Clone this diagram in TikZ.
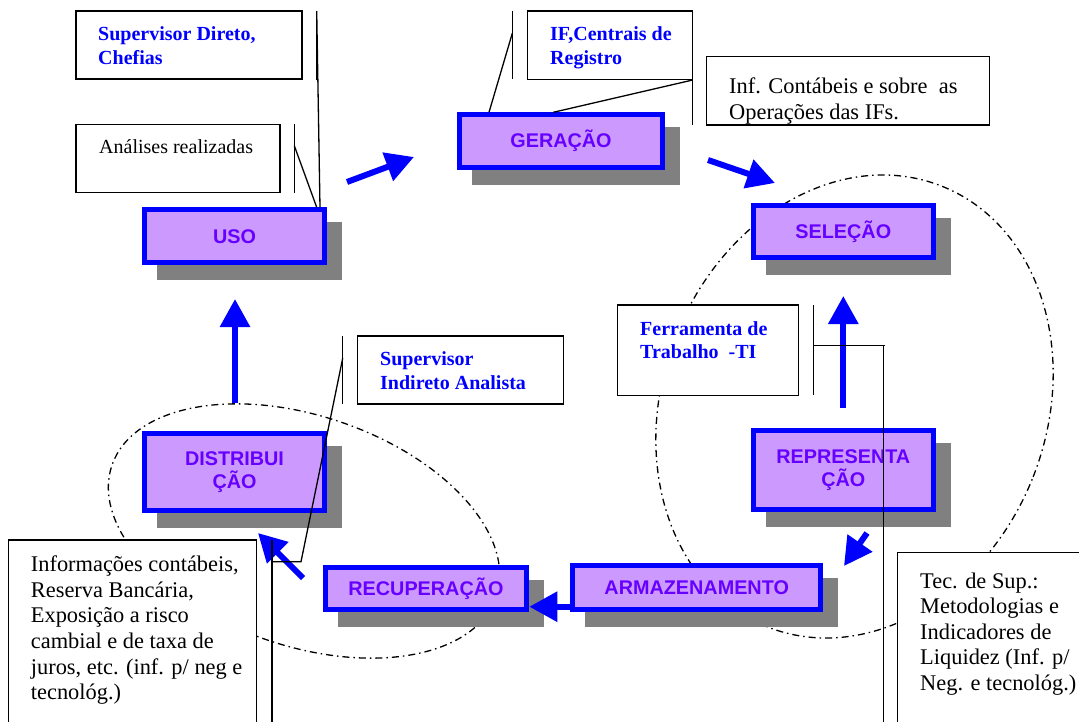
\documentclass[tikz,border=0pt]{standalone}
\usepackage{fontspec}
\setmainfont{Liberation Serif}
\newfontfamily\labelfont{Liberation Sans}
\usetikzlibrary{arrows.meta,shadows}
\definecolor{procfill}{HTML}{CC99FF}
\definecolor{proctext}{HTML}{6600FF}
\definecolor{procblue}{HTML}{0000FF}
\definecolor{shadowgray}{HTML}{808080}
\newcommand\notelines[1]{\parbox[t]{320pt}{\raggedright #1}}

\begin{document}
\begin{tikzpicture}[x=1pt,y=-1pt,
  process/.style={draw=procblue, line width=5pt, fill=procfill, text=proctext,
    font=\labelfont\bfseries\fontsize{19.8}{23.4}\selectfont, align=center, inner sep=0pt,
    drop shadow={shadow xshift=15pt, shadow yshift=-15pt, opacity=1,
      fill=shadowgray, draw=shadowgray, line width=5pt}},
  note/.style={draw=black, line width=1.4pt, fill=white, inner sep=0pt},
  bluetext/.style={anchor=base west, inner sep=0pt, text=procblue,
    font=\bfseries\fontsize{20}{23.6}\selectfont},
  smalltext/.style={anchor=base west, inner sep=0pt,
    font=\fontsize{20}{23.6}\selectfont},
  bodytext/.style={anchor=base west, inner sep=0pt,
    font=\fontsize{22.4}{25.6}\selectfont},
  leader/.style={draw=black, line width=1.3pt},
  flow/.style={draw=procblue, line width=6pt, -{Triangle[length=28pt,width=29pt]}},
  zone/.style={draw=black, line width=1.3pt, dash pattern=on 7pt off 4pt on 1.5pt off 4pt},
]
\useasboundingbox (0,0) rectangle (1079,722);
\clip (0,0) rectangle (1079,722);

% dash-dot zones round the two groups of stages
\draw[zone, rotate around={-21.5:(854.5,406.5)}] (854.5,406.5) ellipse [x radius=192pt, y radius=237pt];
\draw[zone, rotate around={-18.9:(304,531)}] (304,531) ellipse [x radius=203pt, y radius=115pt];

% stages of the cycle
\node[process, minimum width=180pt, minimum height=52.7pt] (uso) at (234.5,236.2) {USO};
\node[process, minimum width=203.6pt, minimum height=52.7pt] (ger) at (561,141.2) {GERAÇÃO};
\node[process, minimum width=180.3pt, minimum height=52.3pt] (sel) at (843.3,231.3) {SELEÇÃO};
\node[process, minimum width=180.3pt, minimum height=78.4pt] (rep) at (843.3,470) {REPRESENTA\\ÇÃO};
\node[process, minimum width=180.6pt, minimum height=77.3pt] (dis) at (234.5,472.2) {DISTRIBUI\\ÇÃO};
\node[process, minimum width=201.6pt, minimum height=41.7pt] (rec) at (426,588.3) {RECUPERAÇÃO};
\node[process, minimum width=248.3pt, minimum height=44pt] (arm) at (696.7,587.8) {ARMAZENAMENTO};

% callout boxes
\node[note, minimum width=226pt, minimum height=68pt] (sup) at (189,45) {};
\node[note, minimum width=204pt, minimum height=68.4pt] (ana) at (178,158.5) {};
\node[note, minimum width=165.4pt, minimum height=68.3pt] (ifc) at (610,45.2) {};
\node[note, minimum width=282.6pt, minimum height=68.3pt] (inf) at (848,90.9) {};
\node[note, minimum width=181.4pt, minimum height=90.3pt] (fer) at (708,350.2) {};
\node[note, minimum width=206pt, minimum height=68pt] (sind) at (460.3,370) {};
\node[note, minimum width=248pt, minimum height=220pt] (infos) at (132.7,650) {};
\node[note, minimum width=202.3pt, minimum height=207.4pt] (tec) at (998.9,656.4) {};

% callout texts
\node[bluetext] (sup-t) at (98,40.7) {\notelines{Supervisor Direto,\\Chefias}};
\node[smalltext] (ana-t) at (99,154) {\notelines{Análises realizadas}};
\node[bluetext] (ifc-t) at (550,40.7) {\notelines{IF,Centrais de\\Registro}};
\begin{scope}
  \clip (707.4,57.4) rectangle (988.6,124.3);
  \node[bodytext, font=\fontsize{22.4}{26.5}\selectfont] (inf-t) at (729,93.5) {\notelines{Inf. Contábeis e sobre\ \ as\\Operações das IFs.}};
\end{scope}
\node[bluetext] (fer-t) at (640,335) {\notelines{Ferramenta de\\Trabalho\ \ -TI}};
\node[bluetext] (sind-t) at (380,365.7) {\notelines{Supervisor\\Indireto Analista}};
\node[bodytext] (infos-t) at (30.7,571.7) {\notelines{Informações contábeis,\\Reserva Bancária,\\Exposição a risco\\cambial e de taxa de\\juros, etc. (inf. p/ neg e\\tecnológ.)}};
\node[bodytext] (tec-t) at (920,588) {\notelines{Tec. de Sup.:\\Metodologias e\\Indicadores de\\Liquidez (Inf. p/\\Neg. e tecnológ.)}};

% flow of the cycle
\coordinate (f1a) at (347,182);   \coordinate (f1b) at (414,157);
\coordinate (f2a) at (708,160);   \coordinate (f2b) at (775,183);
\coordinate (f3a) at (843.3,408); \coordinate (f3b) at (843.3,296);
\coordinate (f4a) at (867,533);   \coordinate (f4b) at (844,566);
\coordinate (f5a) at (572,606.7); \coordinate (f5b) at (529.3,606.7);
\coordinate (f6a) at (303,578);   \coordinate (f6b) at (258,533);
\coordinate (f7a) at (235,403);   \coordinate (f7b) at (235,299);
\draw[flow] (f1a) -- (f1b);
\draw[flow] (f2a) -- (f2b);
\draw[flow] (f3a) -- (f3b);
\draw[flow] (f4a) -- (f4b);
\draw[flow] (f5a) -- (f5b);
\draw[flow] (f6a) -- (f6b);
\draw[flow] (f7a) -- (f7b);

% accent bars and leader lines of the callouts
\coordinate (b1a) at (316.7,11);  \coordinate (b1b) at (316.7,80);  \coordinate (b1c) at (320,207.5);
\draw[leader] (b1a) -- (b1b);
\draw[leader] (b1a) -- (b1c);
\coordinate (b2a) at (294.3,124.3); \coordinate (b2b) at (294.3,192.7);
\coordinate (b2c) at (294.3,145.7); \coordinate (b2d) at (316.7,207.3);
\draw[leader] (b2a) -- (b2b);
\draw[leader] (b2c) -- (b2d);
\coordinate (b3a) at (512.3,11); \coordinate (b3b) at (512.3,79.3);
\coordinate (b3c) at (512.3,33.3); \coordinate (b3d) at (489,112.3);
\draw[leader] (b3a) -- (b3b);
\draw[leader] (b3c) -- (b3d);
\coordinate (b4a) at (692.7,56.7); \coordinate (b4b) at (692.7,125.3);
\coordinate (b4c) at (692.7,80); \coordinate (b4d) at (553.3,112.3);
\draw[leader] (b4a) -- (b4b);
\draw[leader] (b4c) -- (b4d);
\coordinate (b5a) at (342.7,336); \coordinate (b5b) at (342.7,404);
\coordinate (b5c) at (342.7,358.3); \coordinate (b5d) at (301,561.7); \coordinate (b5e) at (272,561.7);
\draw[leader] (b5a) -- (b5b);
\draw[leader] (b5c) -- (b5d) -- (b5e);
\coordinate (b6a) at (272,540); \coordinate (b6b) at (272,730);
\draw[leader] (b6a) -- (b6b);
\coordinate (b7a) at (813.3,305); \coordinate (b7b) at (813.3,395.3);
\coordinate (b7c) at (813.3,345.7); \coordinate (b7d) at (885,345.7);
\draw[leader] (b7a) -- (b7b);
\draw[leader] (b7c) -- (b7d);
\coordinate (b8a) at (883.3,345.7); \coordinate (b8b) at (883.3,730);
\draw[leader] (b8a) -- (b8b);
\end{tikzpicture}
\end{document}
